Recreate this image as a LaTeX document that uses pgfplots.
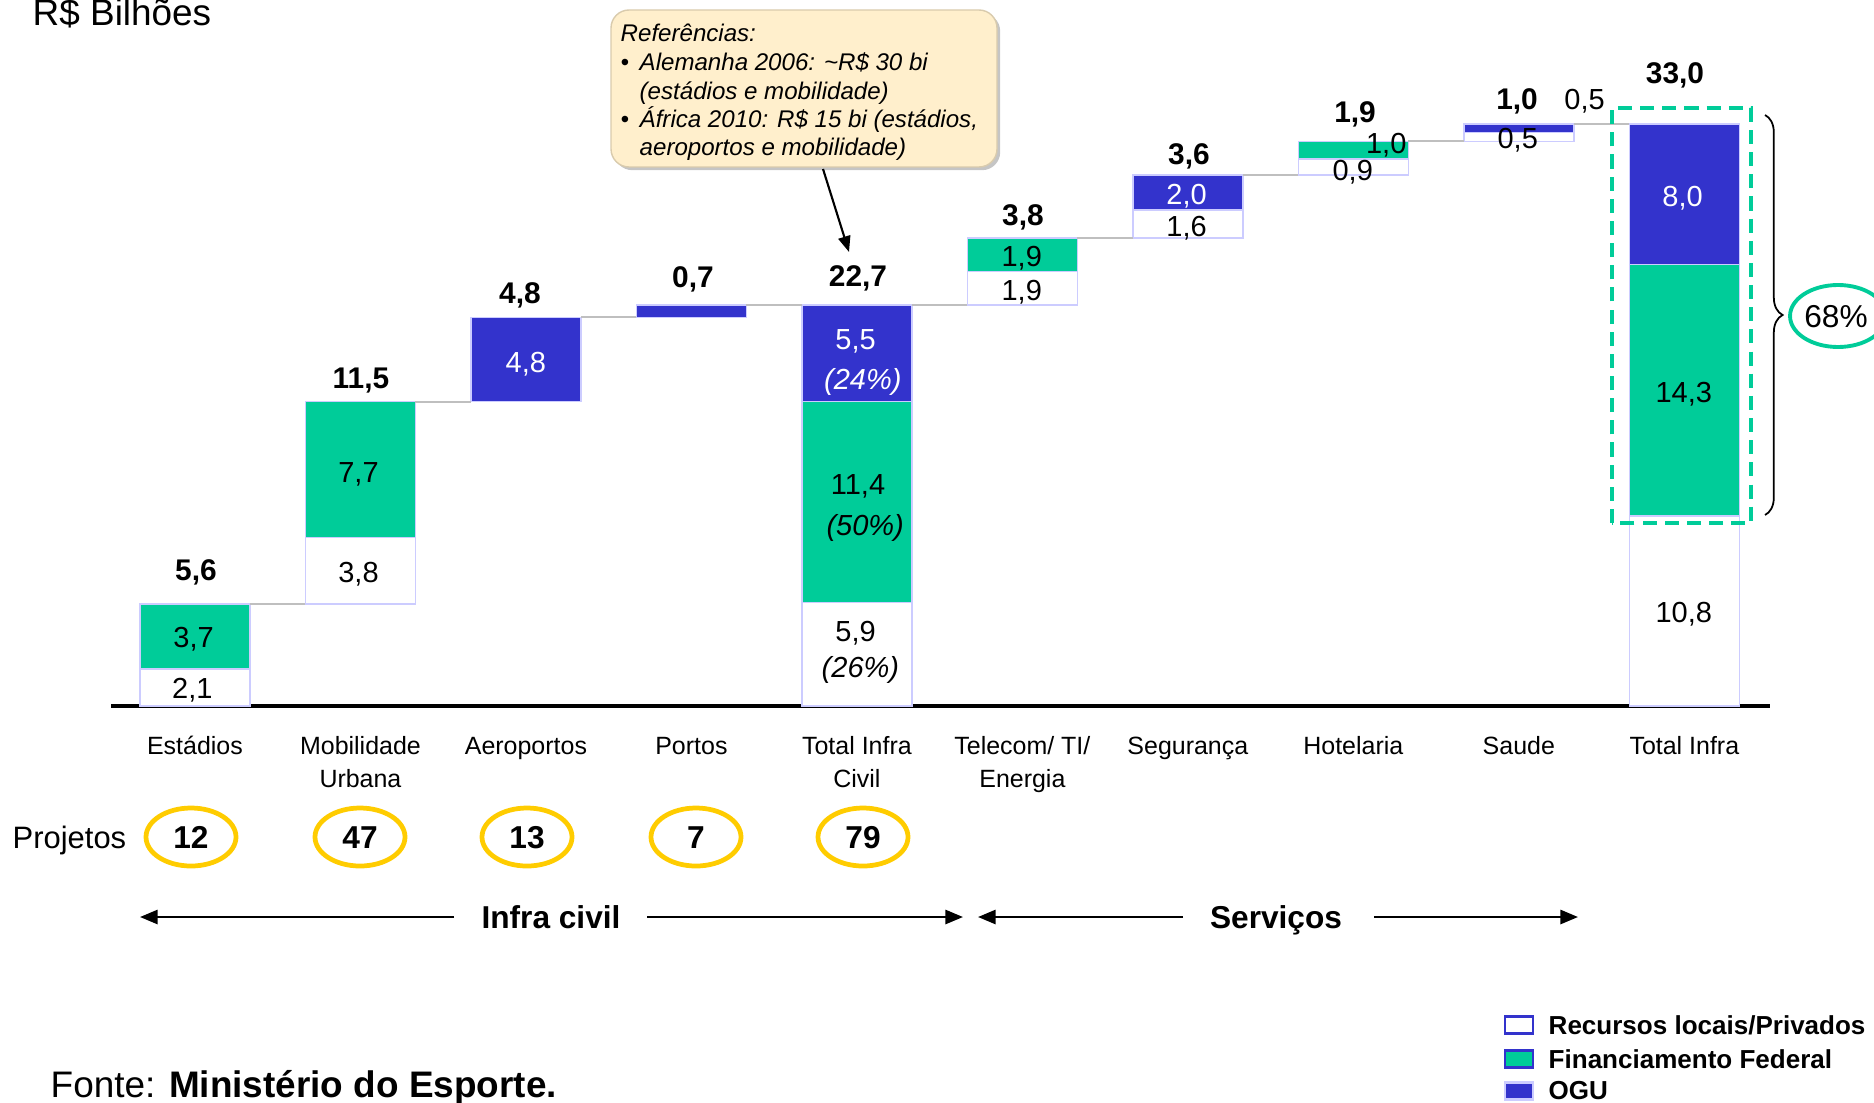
\documentclass[border=0pt]{standalone}
\usepackage{fontspec}
\setmainfont{Liberation Sans}
\usepackage{pgfplots}
\pgfplotsset{compat=1.18}
\usetikzlibrary{arrows.meta,decorations.pathreplacing,shadows}
\definecolor{ogu}{HTML}{3333CC}
\definecolor{fed}{HTML}{00CC99}
\definecolor{edge}{HTML}{CCCCFF}
\definecolor{conn}{HTML}{BFBFBF}
\definecolor{gold}{HTML}{FFCC00}
\definecolor{callout}{HTML}{FFEFCC}
\newcommand{\vlf}{\fontsize{8.25pt}{9.9pt}\selectfont}
\newcommand{\tlf}{\fontsize{8.5pt}{10pt}\selectfont\bfseries}
\newcommand{\calf}{\fontsize{6.85pt}{8.2pt}\selectfont\itshape}
\newcommand{\two}[2]{\vtop{\halign{\hfil##\hfil\cr#1\cr#2\cr}}}
\pgfplotsset{wf/.style={scale only axis, width=16.58cm, height=7.032cm,
  xmin=-0.507, xmax=9.518, ymin=0, ymax=40,
  at={(1.11cm,3.957cm)}, anchor=south west, clip=false}}
\begin{document}
\begin{tikzpicture}[x=0.01cm,y=0.01cm,
  vl/.style={anchor=base, inner sep=0pt, font=\vlf},
  tl/.style={anchor=base, inner sep=0pt, font=\tlf},
  cl/.style={anchor=base west, inner sep=0pt, font=\calf}]
\useasboundingbox (0,0) rectangle (1874,1102);
% bars
\begin{axis}[wf, ybar stacked, bar width=0.665,
  axis x line=bottom, axis y line=none,
  x axis line style={-, line width=1pt, black},
  every outer x axis line/.append style={-},
  xtick={0,...,9}, major tick length=0pt, xtick style={draw=none}, ytick=\empty,
  xticklabels={Estádios, \two{Mobilidade}{Urbana}, Aeroportos, Portos, \two{Total Infra}{Civil}, \two{Telecom/ TI/}{Energia}, Segurança, Hotelaria, Saude, Total Infra},
  xticklabel style={font=\fontsize{7.1pt}{9.5pt}\selectfont, anchor=base, yshift=-13.66pt},
  every axis plot/.append style={draw=edge, line width=0.4pt}]
\addplot[draw=none, fill=none] coordinates {(0,0) (1,5.8) (2,17.3) (3,22.1) (4,0) (5,22.8) (6,26.6) (7,30.2) (8,32.1) (9,0)};
\addplot[fill=white, draw=edge] coordinates {(0,2.1) (1,3.8) (2,0) (3,0) (4,5.9) (5,1.9) (6,1.6) (7,0.9) (8,0.5) (9,10.8)};
\addplot[fill=fed, draw=edge] coordinates {(0,3.7) (1,7.7) (2,0) (3,0) (4,11.4) (5,1.9) (6,0) (7,1.0) (8,0) (9,14.3)};
\addplot[fill=ogu, draw=edge] coordinates {(0,0) (1,0) (2,4.8) (3,0.7) (4,5.5) (5,0) (6,2.0) (7,0) (8,0.5) (9,8.0)};
\end{axis}
% connectors
\begin{axis}[wf, hide axis]
\addplot[conn, line width=0.6pt, no marks, unbounded coords=jump] coordinates {
(0.3325,5.8) (0.6675,5.8) (1,nan)
(1.3325,17.3) (1.6675,17.3) (2,nan)
(2.3325,22.1) (2.6675,22.1) (3,nan)
(3.3325,22.8) (3.6675,22.8) (4,nan)
(4.3325,22.8) (4.6675,22.8) (5,nan)
(5.3325,26.6) (5.6675,26.6) (6,nan)
(6.3325,30.2) (6.6675,30.2) (7,nan)
(7.3325,32.1) (7.6675,32.1) (8,nan)
(8.3325,33.1) (8.6675,33.1)};
\end{axis}
% title
\node[anchor=base west, inner sep=0pt, font=\fontsize{10.5pt}{12pt}\selectfont] at (32,1076) {R\$ Bilhões};
% totals
\node[tl] at (196,521.3) {5,6};
\node[tl] at (361,713.7) {11,5};
\node[tl] at (520,798.5) {4,8};
\node[tl] at (693,814.1) {0,7};
\node[tl] at (858,815.3) {22,7};
\node[tl] at (1023,876.2) {3,8};
\node[tl] at (1189,937.1) {3,6};
\node[tl] at (1355,979) {1,9};
\node[tl] at (1517,992.1) {1,0};
\node[tl] at (1675,1018.4) {33,0};
% segment values
\node[vl] at (193.6,454.6) {3,7};
\node[vl] at (192.4,403.3) {2,1};
\node[vl] at (358.5,619.6) {7,7};
\node[vl] at (358.5,519.2) {3,8};
\node[vl, text=white] at (525.8,729.5) {4,8};
\node[vl, text=white] at (855.6,752.2) {5,5};
\node[vl, text=white, font=\vlf\itshape] at (862.8,712.8) {(24\%)};
\node[vl] at (858,607.6) {11,4};
\node[vl, font=\vlf\itshape] at (865.2,567) {(50\%)};
\node[vl] at (855.6,460.6) {5,9};
\node[vl, font=\vlf\itshape] at (860.4,424.8) {(26\%)};
\node[vl] at (1021.7,835.9) {1,9};
\node[vl] at (1021.7,801.2) {1,9};
\node[vl, text=white] at (1186.6,898) {2,0};
\node[vl] at (1186.6,865.7) {1,6};
\node[vl] at (1386.2,948.2) {1,0};
\node[vl] at (1352.7,921.9) {0,9};
\node[vl] at (1517.7,953) {0,5};
\node[vl] at (1584.6,992.4) {0,5};
\node[vl, text=white] at (1682.6,895.6) {8,0};
\node[vl] at (1683.8,699.6) {14,3};
\node[vl] at (1683.8,479.8) {10,8};
% callout
\draw[draw=callout!85!black, line width=0.4pt, fill=callout, rounded corners=0.18cm,
  drop shadow={shadow xshift=0.9pt, shadow yshift=-0.9pt, fill=black!45}] (611,935) rectangle (997,1092);
\node[cl] at (620,1060) {Referências:};
\node[cl] at (620,1031) {•};
\node[cl] at (639,1031) {Alemanha 2006: \textasciitilde R\$ 30 bi};
\node[cl] at (639,1002) {(estádios e mobilidade)};
\node[cl] at (620,974) {•};
\node[cl] at (639,974) {África 2010: R\$ 15 bi (estádios,};
\node[cl] at (639,946) {aeroportos e mobilidade)};
\draw[-{Triangle[length=4.5pt,width=3.5pt]}, line width=0.6pt] (823,933) -- (849,850);
% total box, brace, 68%
\draw[fed, line width=1pt, dash pattern=on 4pt off 2.3pt] (1612,579) rectangle (1751,994);
\draw[decorate, decoration={brace, amplitude=5pt}, line width=0.5pt] (1765,987) -- (1765,587);
\draw[fed, line width=1.1pt] (1838,786) ellipse [x radius=48, y radius=31];
\node[anchor=base, inner sep=0pt, font=\fontsize{9pt}{10pt}\selectfont] at (1836,775) {68\%};
% projetos
\node[anchor=base west, inner sep=0pt, font=\fontsize{8.8pt}{10pt}\selectfont] at (12,254) {Projetos};
\foreach \x/\n in {191/12,360/47,527/13,696/7,863/79} {
  \draw[gold, line width=1.35pt] (\x,265) ellipse [x radius=45, y radius=29];
  \node[anchor=base, inner sep=0pt, font=\fontsize{9pt}{10pt}\selectfont\bfseries] at (\x,254) {\n};
}
% group arrows
\draw[line width=0.7pt, -{Triangle[length=5pt,width=4pt]}] (454,185) -- (140,185);
\draw[line width=0.7pt, -{Triangle[length=5pt,width=4pt]}] (647,185) -- (963,185);
\draw[line width=0.7pt, -{Triangle[length=5pt,width=4pt]}] (1183,185) -- (978,185);
\draw[line width=0.7pt, -{Triangle[length=5pt,width=4pt]}] (1374,185) -- (1578,185);
\node[anchor=base, inner sep=0pt, font=\fontsize{9pt}{10pt}\selectfont\bfseries] at (551,174) {Infra civil};
\node[anchor=base, inner sep=0pt, font=\fontsize{9pt}{10pt}\selectfont\bfseries] at (1276,174) {Serviços};
% legend
\draw[ogu, fill=white, line width=0.6pt] (1505,68.5) rectangle (1533,85.5);
\draw[ogu, fill=fed, line width=0.6pt] (1505,34.5) rectangle (1533,51.5);
\draw[edge, fill=ogu, line width=0.6pt] (1505,2.5) rectangle (1533,19.5);
\node[anchor=west, inner sep=0pt, font=\fontsize{7.4pt}{9pt}\selectfont\bfseries] at (1548,77) {Recursos locais/Privados};
\node[anchor=west, inner sep=0pt, font=\fontsize{7.4pt}{9pt}\selectfont\bfseries] at (1548,43) {Financiamento Federal};
\node[anchor=west, inner sep=0pt, font=\fontsize{7.4pt}{9pt}\selectfont\bfseries] at (1548,11) {OGU};
% source
\node[anchor=base west, inner sep=0pt, font=\fontsize{10.5pt}{12pt}\selectfont] at (50,5) {Fonte: \textbf{Ministério do Esporte.}};
\end{tikzpicture}
\end{document}
